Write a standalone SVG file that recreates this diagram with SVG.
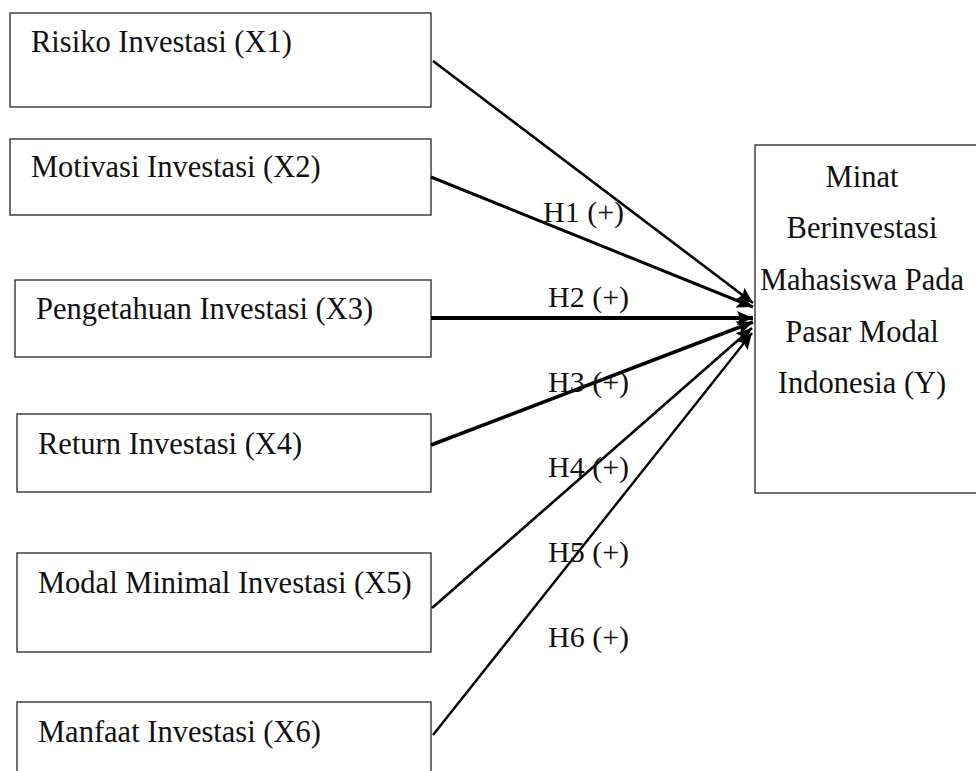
<svg xmlns="http://www.w3.org/2000/svg" width="976" height="771" viewBox="0 0 976 771">
<style>
.box{fill:#fff;stroke:#333;stroke-width:1.4}
.t{font-family:"Liberation Serif","Times New Roman",serif;font-size:30.5px;fill:#111}
.c{text-anchor:middle}
.h{font-family:"Liberation Serif","Times New Roman",serif;font-size:30px;fill:#111}
.ln{stroke:#000;fill:none}
</style>
<defs>
<marker id="ah" markerUnits="userSpaceOnUse" markerWidth="18" markerHeight="14" refX="16" refY="7" orient="auto">
<path d="M0,0 L16,7 L0,14 L3,7 Z" fill="#000"/>
</marker>
</defs>
<rect width="976" height="771" fill="#fff"/>
<g id="x1"><rect class="box" x="10" y="13" width="421" height="94"/><text class="t" x="31" y="52">Risiko Investasi (X1)</text></g>
<g id="x2"><rect class="box" x="10" y="139" width="421" height="76"/><text class="t" x="31" y="177">Motivasi Investasi (X2)</text></g>
<g id="x3"><rect class="box" x="15" y="280" width="416" height="77"/><text class="t" x="36" y="319">Pengetahuan Investasi (X3)</text></g>
<g id="x4"><rect class="box" x="17" y="414" width="414" height="78"/><text class="t" x="38" y="454">Return Investasi (X4)</text></g>
<g id="x5"><rect class="box" x="17" y="553" width="414" height="99"/><text class="t" x="38" y="593">Modal Minimal Investasi (X5)</text></g>
<g id="x6"><rect class="box" x="17" y="702" width="414" height="100"/><text class="t" x="38" y="742">Manfaat Investasi (X6)</text></g>
<g id="y"><rect class="box" x="755" y="145" width="240" height="348"/>
<text class="t c" x="862" y="187">Minat</text>
<text class="t c" x="862" y="238">Berinvestasi</text>
<text class="t c" x="862" y="290">Mahasiswa Pada</text>
<text class="t c" x="862" y="342">Pasar Modal</text>
<text class="t c" x="862" y="393">Indonesia (Y)</text>
</g>
<g id="connectors">
<line class="ln" x1="433" y1="61" x2="753" y2="303" stroke-width="2.6" marker-end="url(#ah)"/>
<line class="ln" x1="431" y1="177" x2="753" y2="307" stroke-width="3" marker-end="url(#ah)"/>
<line class="ln" x1="431" y1="318" x2="753" y2="318" stroke-width="3.8" marker-end="url(#ah)"/>
<line class="ln" x1="431" y1="445" x2="753" y2="322" stroke-width="3.5" marker-end="url(#ah)"/>
<line class="ln" x1="432" y1="608" x2="752" y2="328" stroke-width="2.6" marker-end="url(#ah)"/>
<line class="ln" x1="433" y1="735" x2="752" y2="333" stroke-width="2.4" marker-end="url(#ah)"/>
</g>
<g id="labels">
<text class="h" x="543" y="222">H1 (+)</text>
<text class="h" x="548" y="307">H2 (+)</text>
<text class="h" x="548" y="392">H3 (+)</text>
<text class="h" x="548" y="477">H4 (+)</text>
<text class="h" x="548" y="562">H5 (+)</text>
<text class="h" x="548" y="647">H6 (+)</text>
</g>
</svg>
